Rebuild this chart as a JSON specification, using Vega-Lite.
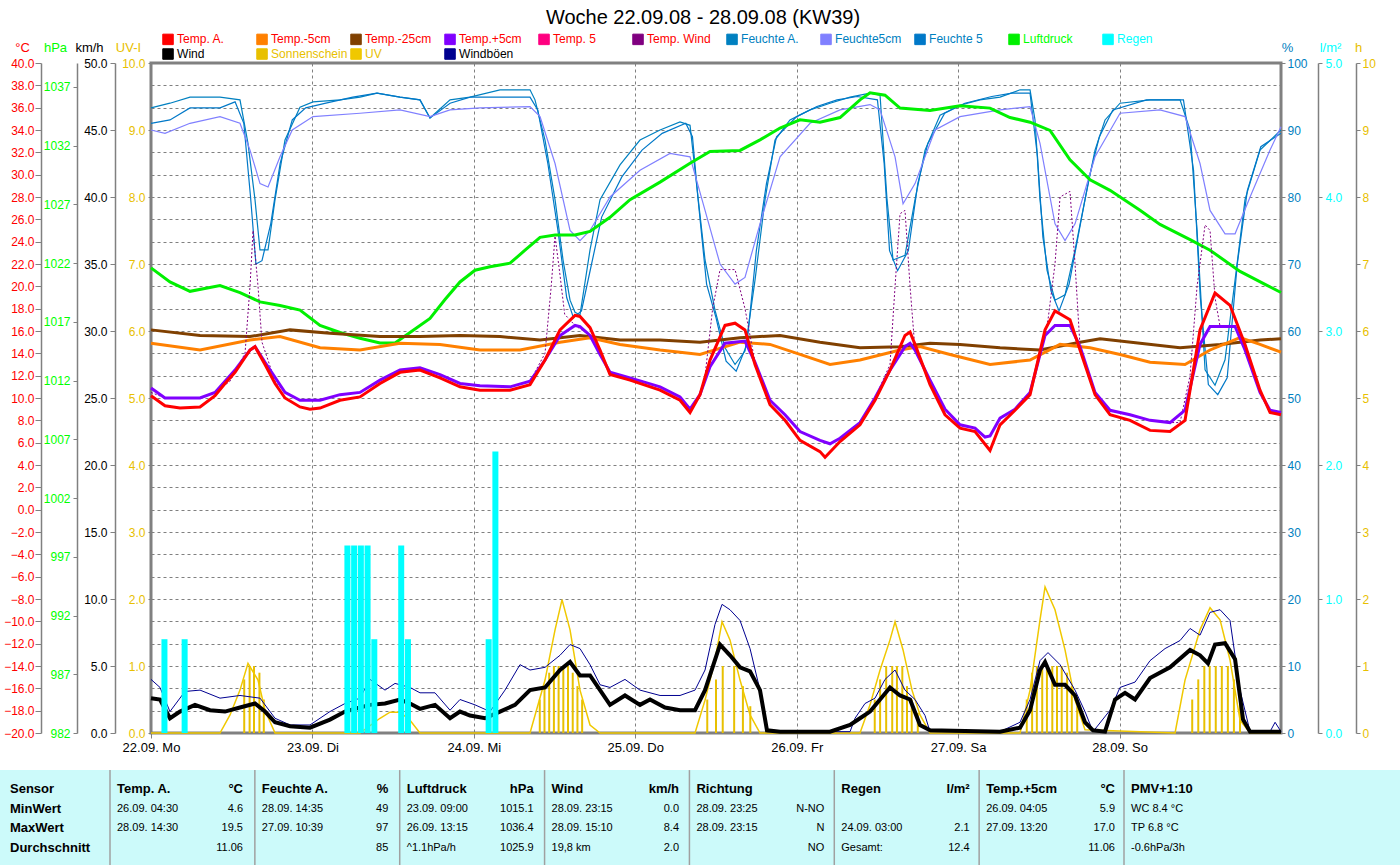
{
"$schema": "https://vega.github.io/schema/vega-lite/v6.json",
"width": 1130, "height": 670,
"autosize": "none",
"padding": {"left": 151, "top": 63, "right": 119, "bottom": 132},
"background": "white",
"config": {"view": {"stroke": "#808080", "strokeWidth": 3}, "font": "Liberation Sans"},
"title": {"text": "Woche 22.09.08 - 28.09.08 (KW39)", "fontSize": 20, "font": "Liberation Sans", "fontWeight": "normal", "color": "#000000", "anchor": "middle", "dx": -13, "offset": 5},
"datasets": {
"ts": [
{"s":"Sonnenschein","t":13.86,"v":0.8},{"s":"Sonnenschein","t":14.66,"v":1.0},{"s":"Sonnenschein","t":15.31,"v":1.0},{"s":"Sonnenschein","t":16.12,"v":0.9},{"s":"Sonnenschein","t":16.77,"v":0.5},
{"s":"Sonnenschein","t":57.8,"v":0.5},{"s":"Sonnenschein","t":58.5,"v":0.7},{"s":"Sonnenschein","t":59.2,"v":0.9},{"s":"Sonnenschein","t":59.9,"v":1.0},{"s":"Sonnenschein","t":60.6,"v":1.0},{"s":"Sonnenschein","t":61.3,"v":1.0},{"s":"Sonnenschein","t":62.0,"v":1.0},{"s":"Sonnenschein","t":62.7,"v":0.9},{"s":"Sonnenschein","t":63.4,"v":0.7},{"s":"Sonnenschein","t":64.1,"v":0.5},
{"s":"Sonnenschein","t":82.7,"v":0.5},{"s":"Sonnenschein","t":84.0,"v":0.8},{"s":"Sonnenschein","t":85.0,"v":1.0},{"s":"Sonnenschein","t":86.7,"v":1.0},{"s":"Sonnenschein","t":88.0,"v":0.7},{"s":"Sonnenschein","t":89.1,"v":0.4},
{"s":"Sonnenschein","t":107.6,"v":0.5},{"s":"Sonnenschein","t":108.4,"v":0.8},{"s":"Sonnenschein","t":109.3,"v":1.0},{"s":"Sonnenschein","t":110.2,"v":1.0},{"s":"Sonnenschein","t":110.9,"v":1.0},{"s":"Sonnenschein","t":111.7,"v":1.0},{"s":"Sonnenschein","t":112.4,"v":0.7},{"s":"Sonnenschein","t":113.1,"v":0.5},{"s":"Sonnenschein","t":114.0,"v":0.3},
{"s":"Sonnenschein","t":130.2,"v":0.5},{"s":"Sonnenschein","t":131.0,"v":0.9},{"s":"Sonnenschein","t":131.7,"v":1.0},{"s":"Sonnenschein","t":132.5,"v":1.0},{"s":"Sonnenschein","t":133.2,"v":1.0},{"s":"Sonnenschein","t":134.0,"v":1.0},{"s":"Sonnenschein","t":134.7,"v":1.0},{"s":"Sonnenschein","t":135.4,"v":1.0},{"s":"Sonnenschein","t":136.2,"v":0.9},{"s":"Sonnenschein","t":136.9,"v":0.7},{"s":"Sonnenschein","t":137.7,"v":0.4},
{"s":"Sonnenschein","t":154.8,"v":0.5},{"s":"Sonnenschein","t":155.7,"v":0.8},{"s":"Sonnenschein","t":156.6,"v":1.0},{"s":"Sonnenschein","t":157.4,"v":1.0},{"s":"Sonnenschein","t":158.3,"v":1.0},{"s":"Sonnenschein","t":159.2,"v":1.0},{"s":"Sonnenschein","t":160.1,"v":1.0},{"s":"Sonnenschein","t":161.0,"v":0.8},{"s":"Sonnenschein","t":161.9,"v":0.5},
{"s":"UV","t":0,"v":0},{"s":"UV","t":10.26,"v":0},{"s":"UV","t":11.75,"v":0.27},{"s":"UV","t":13.23,"v":0.64},{"s":"UV","t":14.42,"v":1.04},{"s":"UV","t":15.91,"v":0.79},{"s":"UV","t":16.95,"v":0.34},{"s":"UV","t":18.44,"v":0},{"s":"UV","t":31.07,"v":0},{"s":"UV","t":34.05,"v":0.22},{"s":"UV","t":35.53,"v":0.31},{"s":"UV","t":37.02,"v":0.31},{"s":"UV","t":38.51,"v":0.19},{"s":"UV","t":39.99,"v":0},{"s":"UV","t":56.35,"v":0},{"s":"UV","t":58.58,"v":0.79},{"s":"UV","t":60.07,"v":1.54},{"s":"UV","t":61.11,"v":1.99},{"s":"UV","t":62.3,"v":1.54},{"s":"UV","t":63.78,"v":0.64},{"s":"UV","t":65.27,"v":0.12},{"s":"UV","t":66.76,"v":0},{"s":"UV","t":80.88,"v":0},{"s":"UV","t":82.37,"v":0.49},{"s":"UV","t":83.85,"v":1.09},{"s":"UV","t":84.9,"v":1.66},{"s":"UV","t":86.08,"v":1.39},{"s":"UV","t":87.57,"v":0.79},{"s":"UV","t":89.06,"v":0.27},{"s":"UV","t":90.54,"v":0},{"s":"UV","t":105.41,"v":0},{"s":"UV","t":106.9,"v":0.42},{"s":"UV","t":108.39,"v":0.94},{"s":"UV","t":109.87,"v":1.39},{"s":"UV","t":110.62,"v":1.66},{"s":"UV","t":111.81,"v":1.24},{"s":"UV","t":113.14,"v":0.64},{"s":"UV","t":114.33,"v":0.27},{"s":"UV","t":115.82,"v":0},{"s":"UV","t":129.2,"v":0},{"s":"UV","t":130.69,"v":0.64},{"s":"UV","t":132.17,"v":1.69},{"s":"UV","t":132.92,"v":2.18},{"s":"UV","t":134.4,"v":1.84},{"s":"UV","t":135.89,"v":1.24},{"s":"UV","t":137.38,"v":0.49},{"s":"UV","t":138.86,"v":0.05},{"s":"UV","t":152.25,"v":0},{"s":"UV","t":153.73,"v":0.79},{"s":"UV","t":155.96,"v":1.54},{"s":"UV","t":157.45,"v":1.87},{"s":"UV","t":158.94,"v":1.69},{"s":"UV","t":160.42,"v":1.09},{"s":"UV","t":161.91,"v":0.19},{"s":"UV","t":163.4,"v":0},{"s":"UV","t":168,"v":0},
{"s":"Feuchte A.","t":0,"v":93.3},{"s":"Feuchte A.","t":2.82,"v":94.0},{"s":"Feuchte A.","t":5.8,"v":94.9},{"s":"Feuchte A.","t":10.26,"v":94.9},{"s":"Feuchte A.","t":13.23,"v":94.5},{"s":"Feuchte A.","t":14.42,"v":88.0},{"s":"Feuchte A.","t":15.46,"v":79.6},{"s":"Feuchte A.","t":16.2,"v":72.1},{"s":"Feuchte A.","t":17.4,"v":72.1},{"s":"Feuchte A.","t":18.44,"v":79.6},{"s":"Feuchte A.","t":19.92,"v":88.5},{"s":"Feuchte A.","t":22.15,"v":93.4},{"s":"Feuchte A.","t":24.09,"v":94.2},{"s":"Feuchte A.","t":28.1,"v":94.5},{"s":"Feuchte A.","t":31.07,"v":94.9},{"s":"Feuchte A.","t":33.6,"v":95.5},{"s":"Feuchte A.","t":37.02,"v":94.9},{"s":"Feuchte A.","t":39.99,"v":94.5},{"s":"Feuchte A.","t":41.48,"v":91.8},{"s":"Feuchte A.","t":44.46,"v":94.5},{"s":"Feuchte A.","t":47.43,"v":94.9},{"s":"Feuchte A.","t":51.89,"v":96.0},{"s":"Feuchte A.","t":56.35,"v":96.0},{"s":"Feuchte A.","t":57.09,"v":94.5},{"s":"Feuchte A.","t":58.58,"v":88.5},{"s":"Feuchte A.","t":60.07,"v":79.6},{"s":"Feuchte A.","t":61.26,"v":70.6},{"s":"Feuchte A.","t":62.3,"v":64.6},{"s":"Feuchte A.","t":63.04,"v":62.8},{"s":"Feuchte A.","t":63.78,"v":62.4},{"s":"Feuchte A.","t":65.27,"v":72.1},{"s":"Feuchte A.","t":66.76,"v":79.6},{"s":"Feuchte A.","t":69.73,"v":84.8},{"s":"Feuchte A.","t":72.7,"v":88.5},{"s":"Feuchte A.","t":75.68,"v":90.0},{"s":"Feuchte A.","t":78.65,"v":91.2},{"s":"Feuchte A.","t":80.14,"v":90.7},{"s":"Feuchte A.","t":80.88,"v":84.0},{"s":"Feuchte A.","t":82.37,"v":70.6},{"s":"Feuchte A.","t":83.85,"v":63.1},{"s":"Feuchte A.","t":85.34,"v":57.5},{"s":"Feuchte A.","t":86.83,"v":55.0},{"s":"Feuchte A.","t":88.31,"v":57.0},{"s":"Feuchte A.","t":89.8,"v":67.6},{"s":"Feuchte A.","t":91.29,"v":79.6},{"s":"Feuchte A.","t":92.77,"v":88.5},{"s":"Feuchte A.","t":95.0,"v":91.5},{"s":"Feuchte A.","t":97.98,"v":93.0},{"s":"Feuchte A.","t":100.95,"v":94.0},{"s":"Feuchte A.","t":103.93,"v":94.9},{"s":"Feuchte A.","t":106.9,"v":95.5},{"s":"Feuchte A.","t":108.39,"v":95.2},{"s":"Feuchte A.","t":109.43,"v":79.6},{"s":"Feuchte A.","t":110.32,"v":70.6},{"s":"Feuchte A.","t":112.1,"v":71.3},{"s":"Feuchte A.","t":113.59,"v":79.6},{"s":"Feuchte A.","t":115.08,"v":87.0},{"s":"Feuchte A.","t":117.31,"v":92.2},{"s":"Feuchte A.","t":120.28,"v":93.7},{"s":"Feuchte A.","t":123.25,"v":94.5},{"s":"Feuchte A.","t":126.23,"v":94.9},{"s":"Feuchte A.","t":129.2,"v":96.0},{"s":"Feuchte A.","t":130.69,"v":96.0},{"s":"Feuchte A.","t":131.43,"v":91.5},{"s":"Feuchte A.","t":132.17,"v":79.6},{"s":"Feuchte A.","t":133.21,"v":69.1},{"s":"Feuchte A.","t":134.4,"v":64.6},{"s":"Feuchte A.","t":135.89,"v":65.4},{"s":"Feuchte A.","t":137.38,"v":72.1},{"s":"Feuchte A.","t":138.86,"v":79.6},{"s":"Feuchte A.","t":140.35,"v":87.0},{"s":"Feuchte A.","t":141.84,"v":91.5},{"s":"Feuchte A.","t":144.07,"v":94.0},{"s":"Feuchte A.","t":148.53,"v":94.5},{"s":"Feuchte A.","t":152.99,"v":94.5},{"s":"Feuchte A.","t":154.48,"v":90.0},{"s":"Feuchte A.","t":155.52,"v":75.0},{"s":"Feuchte A.","t":156.71,"v":54.2},{"s":"Feuchte A.","t":158.19,"v":51.9},{"s":"Feuchte A.","t":159.68,"v":55.7},{"s":"Feuchte A.","t":161.17,"v":67.6},{"s":"Feuchte A.","t":162.65,"v":79.6},{"s":"Feuchte A.","t":164.88,"v":87.0},{"s":"Feuchte A.","t":168,"v":90.0},
{"s":"Feuchte 5","t":0,"v":91.0},{"s":"Feuchte 5","t":2.82,"v":91.5},{"s":"Feuchte 5","t":5.8,"v":93.3},{"s":"Feuchte 5","t":10.26,"v":93.3},{"s":"Feuchte 5","t":12.5,"v":94.2},{"s":"Feuchte 5","t":13.8,"v":91.0},{"s":"Feuchte 5","t":14.8,"v":80.0},{"s":"Feuchte 5","t":15.6,"v":70.0},{"s":"Feuchte 5","t":16.5,"v":70.5},{"s":"Feuchte 5","t":17.8,"v":76.0},{"s":"Feuchte 5","t":19.2,"v":85.0},{"s":"Feuchte 5","t":21.0,"v":91.5},{"s":"Feuchte 5","t":23.0,"v":93.3},{"s":"Feuchte 5","t":26.0,"v":94.0},{"s":"Feuchte 5","t":30.0,"v":94.9},{"s":"Feuchte 5","t":33.6,"v":95.5},{"s":"Feuchte 5","t":37.02,"v":94.9},{"s":"Feuchte 5","t":39.99,"v":94.5},{"s":"Feuchte 5","t":41.48,"v":91.8},{"s":"Feuchte 5","t":44.46,"v":94.0},{"s":"Feuchte 5","t":47.43,"v":94.9},{"s":"Feuchte 5","t":51.89,"v":94.9},{"s":"Feuchte 5","t":56.35,"v":94.9},{"s":"Feuchte 5","t":57.5,"v":93.0},{"s":"Feuchte 5","t":59.0,"v":85.0},{"s":"Feuchte 5","t":60.5,"v":75.0},{"s":"Feuchte 5","t":61.8,"v":65.0},{"s":"Feuchte 5","t":62.8,"v":62.0},{"s":"Feuchte 5","t":64.0,"v":63.0},{"s":"Feuchte 5","t":65.5,"v":70.0},{"s":"Feuchte 5","t":67.0,"v":77.0},{"s":"Feuchte 5","t":70.0,"v":83.0},{"s":"Feuchte 5","t":73.0,"v":87.0},{"s":"Feuchte 5","t":76.0,"v":89.5},{"s":"Feuchte 5","t":79.5,"v":91.0},{"s":"Feuchte 5","t":80.5,"v":89.0},{"s":"Feuchte 5","t":81.3,"v":80.0},{"s":"Feuchte 5","t":82.6,"v":67.0},{"s":"Feuchte 5","t":84.0,"v":62.0},{"s":"Feuchte 5","t":85.5,"v":55.5},{"s":"Feuchte 5","t":87.0,"v":54.0},{"s":"Feuchte 5","t":88.6,"v":58.0},{"s":"Feuchte 5","t":90.0,"v":72.0},{"s":"Feuchte 5","t":91.5,"v":82.0},{"s":"Feuchte 5","t":93.0,"v":89.0},{"s":"Feuchte 5","t":96.0,"v":92.0},{"s":"Feuchte 5","t":99.0,"v":93.5},{"s":"Feuchte 5","t":102.0,"v":94.5},{"s":"Feuchte 5","t":105.0,"v":95.0},{"s":"Feuchte 5","t":108.0,"v":94.5},{"s":"Feuchte 5","t":109.0,"v":85.0},{"s":"Feuchte 5","t":109.8,"v":72.0},{"s":"Feuchte 5","t":111.0,"v":69.0},{"s":"Feuchte 5","t":112.6,"v":72.0},{"s":"Feuchte 5","t":114.0,"v":82.0},{"s":"Feuchte 5","t":115.5,"v":88.0},{"s":"Feuchte 5","t":118.0,"v":92.5},{"s":"Feuchte 5","t":121.0,"v":94.0},{"s":"Feuchte 5","t":125.0,"v":95.0},{"s":"Feuchte 5","t":128.0,"v":95.5},{"s":"Feuchte 5","t":130.69,"v":95.5},{"s":"Feuchte 5","t":131.8,"v":86.0},{"s":"Feuchte 5","t":132.6,"v":74.0},{"s":"Feuchte 5","t":133.8,"v":66.0},{"s":"Feuchte 5","t":135.0,"v":63.0},{"s":"Feuchte 5","t":136.5,"v":67.0},{"s":"Feuchte 5","t":138.0,"v":75.0},{"s":"Feuchte 5","t":139.5,"v":83.0},{"s":"Feuchte 5","t":141.0,"v":89.0},{"s":"Feuchte 5","t":143.0,"v":93.0},{"s":"Feuchte 5","t":148.0,"v":94.5},{"s":"Feuchte 5","t":153.5,"v":94.5},{"s":"Feuchte 5","t":155.0,"v":84.0},{"s":"Feuchte 5","t":156.0,"v":65.0},{"s":"Feuchte 5","t":157.2,"v":52.0},{"s":"Feuchte 5","t":158.6,"v":50.5},{"s":"Feuchte 5","t":160.0,"v":53.0},{"s":"Feuchte 5","t":161.5,"v":70.0},{"s":"Feuchte 5","t":163.0,"v":81.0},{"s":"Feuchte 5","t":165.0,"v":87.5},{"s":"Feuchte 5","t":168,"v":89.5},
{"s":"Feuchte5cm","t":0,"v":90.0},{"s":"Feuchte5cm","t":2.08,"v":89.5},{"s":"Feuchte5cm","t":5.8,"v":91.0},{"s":"Feuchte5cm","t":10.26,"v":92.0},{"s":"Feuchte5cm","t":13.23,"v":91.0},{"s":"Feuchte5cm","t":14.72,"v":87.0},{"s":"Feuchte5cm","t":16.21,"v":82.0},{"s":"Feuchte5cm","t":17.4,"v":81.5},{"s":"Feuchte5cm","t":19.18,"v":86.0},{"s":"Feuchte5cm","t":21.0,"v":90.0},{"s":"Feuchte5cm","t":24.09,"v":92.0},{"s":"Feuchte5cm","t":31.07,"v":92.5},{"s":"Feuchte5cm","t":37.02,"v":93.0},{"s":"Feuchte5cm","t":41.48,"v":92.0},{"s":"Feuchte5cm","t":44.46,"v":93.0},{"s":"Feuchte5cm","t":48.91,"v":93.3},{"s":"Feuchte5cm","t":56.35,"v":93.5},{"s":"Feuchte5cm","t":57.84,"v":92.0},{"s":"Feuchte5cm","t":60.07,"v":85.0},{"s":"Feuchte5cm","t":62.3,"v":75.0},{"s":"Feuchte5cm","t":63.78,"v":73.5},{"s":"Feuchte5cm","t":65.27,"v":75.0},{"s":"Feuchte5cm","t":68.24,"v":80.0},{"s":"Feuchte5cm","t":72.7,"v":84.0},{"s":"Feuchte5cm","t":77.16,"v":86.5},{"s":"Feuchte5cm","t":80.14,"v":86.0},{"s":"Feuchte5cm","t":82.37,"v":78.0},{"s":"Feuchte5cm","t":84.6,"v":70.0},{"s":"Feuchte5cm","t":86.83,"v":67.0},{"s":"Feuchte5cm","t":88.31,"v":68.0},{"s":"Feuchte5cm","t":90.54,"v":76.0},{"s":"Feuchte5cm","t":93.52,"v":86.0},{"s":"Feuchte5cm","t":97.98,"v":91.0},{"s":"Feuchte5cm","t":102.44,"v":93.0},{"s":"Feuchte5cm","t":106.9,"v":93.8},{"s":"Feuchte5cm","t":108.39,"v":93.0},{"s":"Feuchte5cm","t":110.62,"v":86.0},{"s":"Feuchte5cm","t":111.81,"v":79.0},{"s":"Feuchte5cm","t":113.59,"v":82.0},{"s":"Feuchte5cm","t":116.56,"v":90.0},{"s":"Feuchte5cm","t":120.28,"v":92.0},{"s":"Feuchte5cm","t":126.23,"v":93.0},{"s":"Feuchte5cm","t":130.69,"v":93.5},{"s":"Feuchte5cm","t":132.17,"v":88.0},{"s":"Feuchte5cm","t":134.4,"v":76.0},{"s":"Feuchte5cm","t":135.89,"v":73.5},{"s":"Feuchte5cm","t":137.38,"v":76.0},{"s":"Feuchte5cm","t":140.35,"v":86.0},{"s":"Feuchte5cm","t":144.07,"v":92.5},{"s":"Feuchte5cm","t":150.0,"v":93.0},{"s":"Feuchte5cm","t":153.73,"v":92.0},{"s":"Feuchte5cm","t":155.96,"v":85.0},{"s":"Feuchte5cm","t":157.45,"v":78.0},{"s":"Feuchte5cm","t":159.68,"v":74.5},{"s":"Feuchte5cm","t":161.17,"v":74.5},{"s":"Feuchte5cm","t":163.4,"v":80.0},{"s":"Feuchte5cm","t":166.37,"v":87.0},{"s":"Feuchte5cm","t":168,"v":90.5},
{"s":"Luftdruck","t":0,"v":1021.6},{"s":"Luftdruck","t":2.82,"v":1020.4},{"s":"Luftdruck","t":5.8,"v":1019.6},{"s":"Luftdruck","t":10.26,"v":1020.1},{"s":"Luftdruck","t":13.23,"v":1019.5},{"s":"Luftdruck","t":16.21,"v":1018.7},{"s":"Luftdruck","t":19.18,"v":1018.4},{"s":"Luftdruck","t":22.15,"v":1018.0},{"s":"Luftdruck","t":25.13,"v":1016.7},{"s":"Luftdruck","t":28.1,"v":1016.1},{"s":"Luftdruck","t":31.07,"v":1015.6},{"s":"Luftdruck","t":34.05,"v":1015.2},{"s":"Luftdruck","t":36.28,"v":1015.2},{"s":"Luftdruck","t":38.51,"v":1016.1},{"s":"Luftdruck","t":41.48,"v":1017.3},{"s":"Luftdruck","t":43.71,"v":1018.9},{"s":"Luftdruck","t":45.94,"v":1020.4},{"s":"Luftdruck","t":48.17,"v":1021.4},{"s":"Luftdruck","t":50.4,"v":1021.7},{"s":"Luftdruck","t":53.38,"v":1022.0},{"s":"Luftdruck","t":55.61,"v":1023.1},{"s":"Luftdruck","t":57.84,"v":1024.2},{"s":"Luftdruck","t":60.07,"v":1024.4},{"s":"Luftdruck","t":63.04,"v":1024.4},{"s":"Luftdruck","t":65.27,"v":1024.7},{"s":"Luftdruck","t":68.24,"v":1025.9},{"s":"Luftdruck","t":71.22,"v":1027.4},{"s":"Luftdruck","t":75.68,"v":1028.9},{"s":"Luftdruck","t":80.14,"v":1030.5},{"s":"Luftdruck","t":83.11,"v":1031.5},{"s":"Luftdruck","t":87.57,"v":1031.6},{"s":"Luftdruck","t":90.54,"v":1032.5},{"s":"Luftdruck","t":93.52,"v":1033.5},{"s":"Luftdruck","t":96.49,"v":1034.2},{"s":"Luftdruck","t":99.46,"v":1034.0},{"s":"Luftdruck","t":102.44,"v":1034.4},{"s":"Luftdruck","t":105.41,"v":1035.9},{"s":"Luftdruck","t":106.9,"v":1036.5},{"s":"Luftdruck","t":109.13,"v":1036.3},{"s":"Luftdruck","t":111.36,"v":1035.2},{"s":"Luftdruck","t":115.82,"v":1035.0},{"s":"Luftdruck","t":120.28,"v":1035.4},{"s":"Luftdruck","t":124.74,"v":1035.2},{"s":"Luftdruck","t":127.71,"v":1034.4},{"s":"Luftdruck","t":130.69,"v":1034.0},{"s":"Luftdruck","t":133.66,"v":1033.3},{"s":"Luftdruck","t":136.63,"v":1030.8},{"s":"Luftdruck","t":139.61,"v":1029.1},{"s":"Luftdruck","t":142.58,"v":1028.2},{"s":"Luftdruck","t":147.04,"v":1026.5},{"s":"Luftdruck","t":150.01,"v":1025.3},{"s":"Luftdruck","t":154.48,"v":1024.0},{"s":"Luftdruck","t":157.45,"v":1023.1},{"s":"Luftdruck","t":161.91,"v":1021.3},{"s":"Luftdruck","t":165.63,"v":1020.2},{"s":"Luftdruck","t":168,"v":1019.5},
{"s":"Temp.-25cm","t":0,"v":16.1},{"s":"Temp.-25cm","t":7.29,"v":15.6},{"s":"Temp.-25cm","t":14.72,"v":15.5},{"s":"Temp.-25cm","t":20.67,"v":16.1},{"s":"Temp.-25cm","t":26.61,"v":15.8},{"s":"Temp.-25cm","t":34.05,"v":15.5},{"s":"Temp.-25cm","t":39.99,"v":15.5},{"s":"Temp.-25cm","t":45.94,"v":15.6},{"s":"Temp.-25cm","t":51.89,"v":15.5},{"s":"Temp.-25cm","t":57.84,"v":15.2},{"s":"Temp.-25cm","t":63.78,"v":15.6},{"s":"Temp.-25cm","t":69.73,"v":15.2},{"s":"Temp.-25cm","t":75.68,"v":15.2},{"s":"Temp.-25cm","t":81.62,"v":15.0},{"s":"Temp.-25cm","t":87.57,"v":15.4},{"s":"Temp.-25cm","t":93.52,"v":15.6},{"s":"Temp.-25cm","t":99.46,"v":15.0},{"s":"Temp.-25cm","t":105.41,"v":14.5},{"s":"Temp.-25cm","t":111.36,"v":14.6},{"s":"Temp.-25cm","t":115.82,"v":14.9},{"s":"Temp.-25cm","t":120.28,"v":14.8},{"s":"Temp.-25cm","t":126.23,"v":14.5},{"s":"Temp.-25cm","t":132.17,"v":14.3},{"s":"Temp.-25cm","t":138.12,"v":15.0},{"s":"Temp.-25cm","t":141.1,"v":15.3},{"s":"Temp.-25cm","t":147.04,"v":14.9},{"s":"Temp.-25cm","t":152.99,"v":14.5},{"s":"Temp.-25cm","t":158.94,"v":14.8},{"s":"Temp.-25cm","t":164.88,"v":15.2},{"s":"Temp.-25cm","t":168,"v":15.3},
{"s":"Temp.-5cm","t":0,"v":14.9},{"s":"Temp.-5cm","t":7.29,"v":14.3},{"s":"Temp.-5cm","t":14.72,"v":15.2},{"s":"Temp.-5cm","t":19.18,"v":15.5},{"s":"Temp.-5cm","t":25.13,"v":14.5},{"s":"Temp.-5cm","t":31.07,"v":14.3},{"s":"Temp.-5cm","t":37.02,"v":14.9},{"s":"Temp.-5cm","t":42.97,"v":14.8},{"s":"Temp.-5cm","t":48.91,"v":14.3},{"s":"Temp.-5cm","t":54.86,"v":14.3},{"s":"Temp.-5cm","t":60.81,"v":15.0},{"s":"Temp.-5cm","t":65.27,"v":15.4},{"s":"Temp.-5cm","t":69.73,"v":14.8},{"s":"Temp.-5cm","t":75.68,"v":14.3},{"s":"Temp.-5cm","t":81.62,"v":13.9},{"s":"Temp.-5cm","t":87.57,"v":15.0},{"s":"Temp.-5cm","t":92.03,"v":14.8},{"s":"Temp.-5cm","t":96.49,"v":13.9},{"s":"Temp.-5cm","t":100.95,"v":13.0},{"s":"Temp.-5cm","t":105.41,"v":13.4},{"s":"Temp.-5cm","t":111.36,"v":14.3},{"s":"Temp.-5cm","t":114.33,"v":14.6},{"s":"Temp.-5cm","t":118.79,"v":13.9},{"s":"Temp.-5cm","t":124.74,"v":13.0},{"s":"Temp.-5cm","t":130.69,"v":13.4},{"s":"Temp.-5cm","t":135.15,"v":14.8},{"s":"Temp.-5cm","t":139.61,"v":14.5},{"s":"Temp.-5cm","t":144.07,"v":13.9},{"s":"Temp.-5cm","t":148.53,"v":13.2},{"s":"Temp.-5cm","t":153.73,"v":13.0},{"s":"Temp.-5cm","t":157.45,"v":14.3},{"s":"Temp.-5cm","t":161.91,"v":15.4},{"s":"Temp.-5cm","t":164.88,"v":14.8},{"s":"Temp.-5cm","t":168,"v":14.1},
{"s":"Temp. Wind","t":0,"v":10.5},{"s":"Temp. Wind","t":2.08,"v":10.0},{"s":"Temp. Wind","t":7.29,"v":10.0},{"s":"Temp. Wind","t":9.52,"v":10.5},{"s":"Temp. Wind","t":11.75,"v":11.5},{"s":"Temp. Wind","t":13.98,"v":14.0},{"s":"Temp. Wind","t":14.72,"v":20.0},{"s":"Temp. Wind","t":15.17,"v":25.0},{"s":"Temp. Wind","t":15.91,"v":20.0},{"s":"Temp. Wind","t":16.5,"v":15.0},{"s":"Temp. Wind","t":18.44,"v":11.5},{"s":"Temp. Wind","t":19.92,"v":10.5},{"s":"Temp. Wind","t":22.15,"v":9.8},{"s":"Temp. Wind","t":25.13,"v":9.8},{"s":"Temp. Wind","t":28.1,"v":10.3},{"s":"Temp. Wind","t":31.07,"v":10.5},{"s":"Temp. Wind","t":34.05,"v":11.6},{"s":"Temp. Wind","t":37.02,"v":12.5},{"s":"Temp. Wind","t":39.99,"v":12.7},{"s":"Temp. Wind","t":42.97,"v":12.1},{"s":"Temp. Wind","t":45.94,"v":11.3},{"s":"Temp. Wind","t":48.91,"v":11.1},{"s":"Temp. Wind","t":53.38,"v":11.0},{"s":"Temp. Wind","t":56.35,"v":11.5},{"s":"Temp. Wind","t":58.58,"v":14.0},{"s":"Temp. Wind","t":59.5,"v":20.0},{"s":"Temp. Wind","t":60.07,"v":24.5},{"s":"Temp. Wind","t":60.81,"v":21.0},{"s":"Temp. Wind","t":61.5,"v":17.5},{"s":"Temp. Wind","t":63.04,"v":16.5},{"s":"Temp. Wind","t":65.27,"v":15.6},{"s":"Temp. Wind","t":66.76,"v":13.9},{"s":"Temp. Wind","t":68.24,"v":12.3},{"s":"Temp. Wind","t":71.22,"v":11.8},{"s":"Temp. Wind","t":75.68,"v":11.0},{"s":"Temp. Wind","t":78.65,"v":10.1},{"s":"Temp. Wind","t":80.14,"v":9.0},{"s":"Temp. Wind","t":81.62,"v":10.3},{"s":"Temp. Wind","t":82.37,"v":12.0},{"s":"Temp. Wind","t":83.5,"v":18.0},{"s":"Temp. Wind","t":84.6,"v":21.5},{"s":"Temp. Wind","t":86.83,"v":21.5},{"s":"Temp. Wind","t":88.31,"v":18.0},{"s":"Temp. Wind","t":89.8,"v":13.2},{"s":"Temp. Wind","t":92.03,"v":9.8},{"s":"Temp. Wind","t":94.26,"v":8.5},{"s":"Temp. Wind","t":96.49,"v":7.0},{"s":"Temp. Wind","t":99.46,"v":6.2},{"s":"Temp. Wind","t":100.95,"v":5.9},{"s":"Temp. Wind","t":102.44,"v":6.4},{"s":"Temp. Wind","t":105.41,"v":7.8},{"s":"Temp. Wind","t":107.64,"v":10.0},{"s":"Temp. Wind","t":109.87,"v":13.0},{"s":"Temp. Wind","t":110.62,"v":20.0},{"s":"Temp. Wind","t":111.36,"v":26.5},{"s":"Temp. Wind","t":112.1,"v":26.8},{"s":"Temp. Wind","t":112.85,"v":20.0},{"s":"Temp. Wind","t":113.59,"v":14.3},{"s":"Temp. Wind","t":115.82,"v":11.6},{"s":"Temp. Wind","t":118.05,"v":9.0},{"s":"Temp. Wind","t":120.28,"v":7.6},{"s":"Temp. Wind","t":122.51,"v":7.3},{"s":"Temp. Wind","t":124.0,"v":6.5},{"s":"Temp. Wind","t":124.74,"v":6.6},{"s":"Temp. Wind","t":126.23,"v":8.2},{"s":"Temp. Wind","t":128.46,"v":9.0},{"s":"Temp. Wind","t":130.69,"v":10.5},{"s":"Temp. Wind","t":133.36,"v":17.0},{"s":"Temp. Wind","t":134.4,"v":22.0},{"s":"Temp. Wind","t":135.15,"v":28.0},{"s":"Temp. Wind","t":136.63,"v":28.5},{"s":"Temp. Wind","t":137.38,"v":22.0},{"s":"Temp. Wind","t":138.12,"v":14.6},{"s":"Temp. Wind","t":140.35,"v":10.5},{"s":"Temp. Wind","t":142.58,"v":8.9},{"s":"Temp. Wind","t":145.56,"v":8.5},{"s":"Temp. Wind","t":148.53,"v":8.0},{"s":"Temp. Wind","t":151.5,"v":7.8},{"s":"Temp. Wind","t":152.99,"v":7.8},{"s":"Temp. Wind","t":154.48,"v":12.0},{"s":"Temp. Wind","t":155.52,"v":20.0},{"s":"Temp. Wind","t":156.71,"v":25.5},{"s":"Temp. Wind","t":157.45,"v":25.0},{"s":"Temp. Wind","t":158.19,"v":19.0},{"s":"Temp. Wind","t":158.94,"v":16.4},{"s":"Temp. Wind","t":161.17,"v":16.4},{"s":"Temp. Wind","t":162.65,"v":14.3},{"s":"Temp. Wind","t":164.88,"v":10.5},{"s":"Temp. Wind","t":166.37,"v":8.9},{"s":"Temp. Wind","t":168,"v":8.7},
{"s":"Temp.+5cm","t":0,"v":10.9},{"s":"Temp.+5cm","t":2.08,"v":10.0},{"s":"Temp.+5cm","t":7.29,"v":10.0},{"s":"Temp.+5cm","t":9.52,"v":10.5},{"s":"Temp.+5cm","t":12.49,"v":12.5},{"s":"Temp.+5cm","t":14.72,"v":14.3},{"s":"Temp.+5cm","t":15.46,"v":14.6},{"s":"Temp.+5cm","t":16.95,"v":13.2},{"s":"Temp.+5cm","t":19.92,"v":10.5},{"s":"Temp.+5cm","t":22.15,"v":9.8},{"s":"Temp.+5cm","t":25.13,"v":9.8},{"s":"Temp.+5cm","t":28.1,"v":10.3},{"s":"Temp.+5cm","t":31.07,"v":10.5},{"s":"Temp.+5cm","t":34.05,"v":11.6},{"s":"Temp.+5cm","t":37.02,"v":12.5},{"s":"Temp.+5cm","t":39.99,"v":12.7},{"s":"Temp.+5cm","t":42.97,"v":12.1},{"s":"Temp.+5cm","t":45.94,"v":11.3},{"s":"Temp.+5cm","t":48.91,"v":11.1},{"s":"Temp.+5cm","t":53.38,"v":11.0},{"s":"Temp.+5cm","t":56.35,"v":11.5},{"s":"Temp.+5cm","t":58.58,"v":13.4},{"s":"Temp.+5cm","t":60.81,"v":15.6},{"s":"Temp.+5cm","t":63.04,"v":16.5},{"s":"Temp.+5cm","t":63.78,"v":16.4},{"s":"Temp.+5cm","t":65.27,"v":15.6},{"s":"Temp.+5cm","t":66.76,"v":13.9},{"s":"Temp.+5cm","t":68.24,"v":12.3},{"s":"Temp.+5cm","t":71.22,"v":11.8},{"s":"Temp.+5cm","t":75.68,"v":11.0},{"s":"Temp.+5cm","t":78.65,"v":10.1},{"s":"Temp.+5cm","t":80.14,"v":9.0},{"s":"Temp.+5cm","t":81.62,"v":10.3},{"s":"Temp.+5cm","t":83.11,"v":12.8},{"s":"Temp.+5cm","t":85.34,"v":14.9},{"s":"Temp.+5cm","t":88.31,"v":15.1},{"s":"Temp.+5cm","t":89.8,"v":13.2},{"s":"Temp.+5cm","t":92.03,"v":9.8},{"s":"Temp.+5cm","t":94.26,"v":8.5},{"s":"Temp.+5cm","t":96.49,"v":7.0},{"s":"Temp.+5cm","t":99.46,"v":6.2},{"s":"Temp.+5cm","t":100.95,"v":5.9},{"s":"Temp.+5cm","t":102.44,"v":6.4},{"s":"Temp.+5cm","t":105.41,"v":7.8},{"s":"Temp.+5cm","t":107.64,"v":10.0},{"s":"Temp.+5cm","t":109.87,"v":12.5},{"s":"Temp.+5cm","t":112.1,"v":14.6},{"s":"Temp.+5cm","t":112.85,"v":14.9},{"s":"Temp.+5cm","t":113.59,"v":14.3},{"s":"Temp.+5cm","t":115.82,"v":11.6},{"s":"Temp.+5cm","t":118.05,"v":9.0},{"s":"Temp.+5cm","t":120.28,"v":7.6},{"s":"Temp.+5cm","t":122.51,"v":7.3},{"s":"Temp.+5cm","t":124.0,"v":6.5},{"s":"Temp.+5cm","t":124.74,"v":6.6},{"s":"Temp.+5cm","t":126.23,"v":8.2},{"s":"Temp.+5cm","t":128.46,"v":9.0},{"s":"Temp.+5cm","t":130.69,"v":10.5},{"s":"Temp.+5cm","t":132.92,"v":15.6},{"s":"Temp.+5cm","t":134.4,"v":16.5},{"s":"Temp.+5cm","t":136.63,"v":16.5},{"s":"Temp.+5cm","t":138.12,"v":14.6},{"s":"Temp.+5cm","t":140.35,"v":10.5},{"s":"Temp.+5cm","t":142.58,"v":8.9},{"s":"Temp.+5cm","t":145.56,"v":8.5},{"s":"Temp.+5cm","t":148.53,"v":8.0},{"s":"Temp.+5cm","t":151.5,"v":7.8},{"s":"Temp.+5cm","t":153.73,"v":8.9},{"s":"Temp.+5cm","t":155.96,"v":14.8},{"s":"Temp.+5cm","t":157.45,"v":16.4},{"s":"Temp.+5cm","t":161.17,"v":16.4},{"s":"Temp.+5cm","t":162.65,"v":14.3},{"s":"Temp.+5cm","t":164.88,"v":10.5},{"s":"Temp.+5cm","t":166.37,"v":8.9},{"s":"Temp.+5cm","t":168,"v":8.7},
{"s":"Temp. A.","t":0,"v":10.2},{"s":"Temp. A.","t":2.08,"v":9.3},{"s":"Temp. A.","t":4.31,"v":9.1},{"s":"Temp. A.","t":7.29,"v":9.2},{"s":"Temp. A.","t":9.52,"v":10.2},{"s":"Temp. A.","t":11.0,"v":11.3},{"s":"Temp. A.","t":12.49,"v":12.3},{"s":"Temp. A.","t":14.72,"v":14.3},{"s":"Temp. A.","t":15.46,"v":14.6},{"s":"Temp. A.","t":16.95,"v":13.0},{"s":"Temp. A.","t":18.44,"v":11.3},{"s":"Temp. A.","t":19.92,"v":10.0},{"s":"Temp. A.","t":22.15,"v":9.2},{"s":"Temp. A.","t":23.64,"v":9.0},{"s":"Temp. A.","t":25.13,"v":9.1},{"s":"Temp. A.","t":28.1,"v":9.8},{"s":"Temp. A.","t":31.07,"v":10.1},{"s":"Temp. A.","t":34.05,"v":11.3},{"s":"Temp. A.","t":37.02,"v":12.3},{"s":"Temp. A.","t":39.99,"v":12.5},{"s":"Temp. A.","t":42.97,"v":11.8},{"s":"Temp. A.","t":45.94,"v":11.0},{"s":"Temp. A.","t":48.91,"v":10.7},{"s":"Temp. A.","t":53.38,"v":10.7},{"s":"Temp. A.","t":56.35,"v":11.2},{"s":"Temp. A.","t":58.58,"v":13.4},{"s":"Temp. A.","t":60.81,"v":16.1},{"s":"Temp. A.","t":63.04,"v":17.4},{"s":"Temp. A.","t":63.78,"v":17.3},{"s":"Temp. A.","t":65.27,"v":16.3},{"s":"Temp. A.","t":66.76,"v":14.3},{"s":"Temp. A.","t":68.24,"v":12.1},{"s":"Temp. A.","t":71.22,"v":11.6},{"s":"Temp. A.","t":75.68,"v":10.7},{"s":"Temp. A.","t":78.65,"v":9.8},{"s":"Temp. A.","t":80.14,"v":8.7},{"s":"Temp. A.","t":81.62,"v":10.3},{"s":"Temp. A.","t":83.11,"v":13.4},{"s":"Temp. A.","t":85.34,"v":16.5},{"s":"Temp. A.","t":86.83,"v":16.7},{"s":"Temp. A.","t":88.31,"v":16.1},{"s":"Temp. A.","t":89.8,"v":13.0},{"s":"Temp. A.","t":92.03,"v":9.4},{"s":"Temp. A.","t":94.26,"v":8.0},{"s":"Temp. A.","t":96.49,"v":6.2},{"s":"Temp. A.","t":99.46,"v":5.2},{"s":"Temp. A.","t":100.21,"v":4.7},{"s":"Temp. A.","t":102.44,"v":6.1},{"s":"Temp. A.","t":105.41,"v":7.6},{"s":"Temp. A.","t":107.64,"v":9.8},{"s":"Temp. A.","t":109.87,"v":12.5},{"s":"Temp. A.","t":112.1,"v":15.6},{"s":"Temp. A.","t":112.85,"v":15.9},{"s":"Temp. A.","t":113.59,"v":14.8},{"s":"Temp. A.","t":115.82,"v":11.2},{"s":"Temp. A.","t":118.05,"v":8.5},{"s":"Temp. A.","t":120.28,"v":7.3},{"s":"Temp. A.","t":122.51,"v":7.0},{"s":"Temp. A.","t":124.74,"v":5.3},{"s":"Temp. A.","t":126.23,"v":7.6},{"s":"Temp. A.","t":128.46,"v":8.9},{"s":"Temp. A.","t":130.69,"v":10.3},{"s":"Temp. A.","t":132.92,"v":16.1},{"s":"Temp. A.","t":134.4,"v":17.8},{"s":"Temp. A.","t":136.63,"v":17.0},{"s":"Temp. A.","t":138.12,"v":14.3},{"s":"Temp. A.","t":140.35,"v":10.3},{"s":"Temp. A.","t":142.58,"v":8.5},{"s":"Temp. A.","t":145.56,"v":8.0},{"s":"Temp. A.","t":148.53,"v":7.1},{"s":"Temp. A.","t":151.5,"v":7.0},{"s":"Temp. A.","t":153.73,"v":8.0},{"s":"Temp. A.","t":155.96,"v":16.1},{"s":"Temp. A.","t":158.19,"v":19.4},{"s":"Temp. A.","t":160.42,"v":18.3},{"s":"Temp. A.","t":162.65,"v":14.8},{"s":"Temp. A.","t":164.88,"v":10.7},{"s":"Temp. A.","t":166.37,"v":8.7},{"s":"Temp. A.","t":168,"v":8.5},
{"s":"Windböen","t":0,"v":4.0},{"s":"Windböen","t":1.34,"v":3.4},{"s":"Windböen","t":2.82,"v":1.6},{"s":"Windböen","t":5.05,"v":3.1},{"s":"Windböen","t":7.29,"v":3.2},{"s":"Windböen","t":10.26,"v":2.6},{"s":"Windböen","t":13.23,"v":2.8},{"s":"Windböen","t":16.21,"v":2.6},{"s":"Windböen","t":18.44,"v":1.1},{"s":"Windböen","t":20.67,"v":0.6},{"s":"Windböen","t":23.64,"v":0.6},{"s":"Windböen","t":26.61,"v":1.6},{"s":"Windböen","t":28.84,"v":2.2},{"s":"Windböen","t":31.07,"v":2.6},{"s":"Windböen","t":32.56,"v":4.0},{"s":"Windböen","t":34.79,"v":3.2},{"s":"Windböen","t":36.28,"v":3.7},{"s":"Windböen","t":38.51,"v":3.4},{"s":"Windböen","t":39.99,"v":3.0},{"s":"Windböen","t":42.22,"v":3.0},{"s":"Windböen","t":44.46,"v":1.7},{"s":"Windböen","t":45.94,"v":2.5},{"s":"Windböen","t":48.17,"v":2.1},{"s":"Windböen","t":50.4,"v":1.6},{"s":"Windböen","t":52.63,"v":3.2},{"s":"Windböen","t":54.86,"v":5.1},{"s":"Windböen","t":56.35,"v":4.7},{"s":"Windböen","t":58.58,"v":4.9},{"s":"Windböen","t":60.81,"v":5.8},{"s":"Windböen","t":62.3,"v":6.6},{"s":"Windböen","t":63.78,"v":6.3},{"s":"Windböen","t":65.27,"v":5.1},{"s":"Windböen","t":66.76,"v":3.6},{"s":"Windböen","t":68.24,"v":3.4},{"s":"Windböen","t":70.47,"v":4.0},{"s":"Windböen","t":72.7,"v":3.2},{"s":"Windböen","t":75.68,"v":2.8},{"s":"Windböen","t":78.65,"v":2.8},{"s":"Windböen","t":80.88,"v":3.2},{"s":"Windböen","t":82.37,"v":4.7},{"s":"Windböen","t":83.85,"v":8.1},{"s":"Windböen","t":84.9,"v":9.6},{"s":"Windböen","t":86.08,"v":9.2},{"s":"Windböen","t":87.57,"v":8.4},{"s":"Windböen","t":89.06,"v":6.3},{"s":"Windböen","t":90.54,"v":3.2},{"s":"Windböen","t":91.58,"v":0.1},{"s":"Windböen","t":103.93,"v":0.1},{"s":"Windböen","t":104.67,"v":1.1},{"s":"Windböen","t":106.15,"v":2.2},{"s":"Windböen","t":107.64,"v":2.6},{"s":"Windböen","t":109.13,"v":4.0},{"s":"Windböen","t":110.62,"v":4.7},{"s":"Windböen","t":112.1,"v":3.2},{"s":"Windböen","t":113.59,"v":2.5},{"s":"Windböen","t":115.08,"v":1.3},{"s":"Windböen","t":115.82,"v":0.1},{"s":"Windböen","t":126.23,"v":0.1},{"s":"Windböen","t":129.2,"v":0.8},{"s":"Windböen","t":130.69,"v":2.5},{"s":"Windböen","t":132.17,"v":5.4},{"s":"Windböen","t":133.36,"v":6.0},{"s":"Windböen","t":135.15,"v":5.1},{"s":"Windböen","t":137.38,"v":3.2},{"s":"Windböen","t":138.86,"v":1.6},{"s":"Windböen","t":140.05,"v":0.1},{"s":"Windböen","t":142.58,"v":1.7},{"s":"Windböen","t":144.07,"v":3.4},{"s":"Windböen","t":146.3,"v":3.8},{"s":"Windböen","t":148.53,"v":5.4},{"s":"Windböen","t":150.76,"v":6.3},{"s":"Windböen","t":152.99,"v":6.9},{"s":"Windböen","t":154.48,"v":7.8},{"s":"Windböen","t":155.96,"v":7.3},{"s":"Windböen","t":157.45,"v":9.0},{"s":"Windböen","t":158.94,"v":9.2},{"s":"Windböen","t":160.42,"v":8.4},{"s":"Windböen","t":161.91,"v":3.2},{"s":"Windböen","t":163.4,"v":0.1},{"s":"Windböen","t":166.37,"v":0.1},{"s":"Windböen","t":167.12,"v":0.8},{"s":"Windböen","t":168,"v":0.1},
{"s":"Wind","t":0,"v":2.6},{"s":"Wind","t":1.34,"v":2.5},{"s":"Wind","t":2.82,"v":1.1},{"s":"Wind","t":4.31,"v":1.6},{"s":"Wind","t":6.54,"v":2.1},{"s":"Wind","t":8.77,"v":1.7},{"s":"Wind","t":11.0,"v":1.6},{"s":"Wind","t":13.23,"v":1.9},{"s":"Wind","t":15.46,"v":2.2},{"s":"Wind","t":16.95,"v":1.6},{"s":"Wind","t":18.44,"v":0.8},{"s":"Wind","t":20.67,"v":0.5},{"s":"Wind","t":23.64,"v":0.4},{"s":"Wind","t":26.61,"v":1.0},{"s":"Wind","t":28.84,"v":1.6},{"s":"Wind","t":31.07,"v":1.9},{"s":"Wind","t":32.56,"v":2.1},{"s":"Wind","t":34.79,"v":2.2},{"s":"Wind","t":37.02,"v":2.5},{"s":"Wind","t":38.51,"v":2.2},{"s":"Wind","t":39.99,"v":1.8},{"s":"Wind","t":42.22,"v":2.1},{"s":"Wind","t":44.46,"v":1.1},{"s":"Wind","t":45.94,"v":1.6},{"s":"Wind","t":47.43,"v":1.3},{"s":"Wind","t":49.66,"v":1.1},{"s":"Wind","t":51.89,"v":1.6},{"s":"Wind","t":54.12,"v":2.1},{"s":"Wind","t":56.35,"v":3.2},{"s":"Wind","t":58.58,"v":3.4},{"s":"Wind","t":60.81,"v":4.7},{"s":"Wind","t":62.3,"v":5.3},{"s":"Wind","t":63.78,"v":4.3},{"s":"Wind","t":65.27,"v":4.3},{"s":"Wind","t":66.76,"v":3.2},{"s":"Wind","t":68.24,"v":2.1},{"s":"Wind","t":70.47,"v":2.8},{"s":"Wind","t":72.7,"v":2.1},{"s":"Wind","t":74.19,"v":2.5},{"s":"Wind","t":76.42,"v":1.9},{"s":"Wind","t":78.65,"v":1.7},{"s":"Wind","t":80.88,"v":1.7},{"s":"Wind","t":82.37,"v":3.2},{"s":"Wind","t":84.6,"v":6.6},{"s":"Wind","t":86.08,"v":5.8},{"s":"Wind","t":87.57,"v":4.9},{"s":"Wind","t":89.06,"v":4.6},{"s":"Wind","t":90.54,"v":3.2},{"s":"Wind","t":91.58,"v":0.2},{"s":"Wind","t":93.52,"v":0.1},{"s":"Wind","t":100.95,"v":0.1},{"s":"Wind","t":103.93,"v":0.6},{"s":"Wind","t":105.41,"v":1.1},{"s":"Wind","t":106.9,"v":1.6},{"s":"Wind","t":108.39,"v":2.5},{"s":"Wind","t":109.87,"v":3.4},{"s":"Wind","t":111.36,"v":2.8},{"s":"Wind","t":112.85,"v":2.5},{"s":"Wind","t":114.33,"v":0.6},{"s":"Wind","t":115.82,"v":0.2},{"s":"Wind","t":126.23,"v":0.1},{"s":"Wind","t":129.2,"v":0.4},{"s":"Wind","t":130.69,"v":1.7},{"s":"Wind","t":132.17,"v":4.7},{"s":"Wind","t":132.92,"v":5.3},{"s":"Wind","t":134.4,"v":3.6},{"s":"Wind","t":135.89,"v":3.6},{"s":"Wind","t":137.38,"v":2.8},{"s":"Wind","t":138.86,"v":0.8},{"s":"Wind","t":140.05,"v":0.2},{"s":"Wind","t":141.84,"v":0.1},{"s":"Wind","t":143.33,"v":2.5},{"s":"Wind","t":144.81,"v":3.0},{"s":"Wind","t":146.3,"v":2.5},{"s":"Wind","t":148.53,"v":4.1},{"s":"Wind","t":151.5,"v":4.9},{"s":"Wind","t":154.48,"v":6.2},{"s":"Wind","t":155.96,"v":5.8},{"s":"Wind","t":157.15,"v":5.2},{"s":"Wind","t":158.19,"v":6.6},{"s":"Wind","t":159.68,"v":6.7},{"s":"Wind","t":161.17,"v":5.5},{"s":"Wind","t":162.36,"v":1.0},{"s":"Wind","t":163.4,"v":0.1},{"s":"Wind","t":168,"v":0.1},
{"s":"Regen","t":2.0,"v":0.7},{"s":"Regen","t":5.0,"v":0.7},{"s":"Regen","t":29.2,"v":1.4},{"s":"Regen","t":30.2,"v":1.4},{"s":"Regen","t":31.2,"v":1.4},{"s":"Regen","t":32.2,"v":1.4},{"s":"Regen","t":33.2,"v":0.7},{"s":"Regen","t":37.2,"v":1.4},{"s":"Regen","t":38.2,"v":0.7},{"s":"Regen","t":50.2,"v":0.7},{"s":"Regen","t":51.2,"v":2.1}
],
"tbl": [
{"r":0,"c":0,"a":"l","b":1,"t":"Sensor"},
{"r":0,"c":1,"a":"l","b":1,"t":"Temp. A."},{"r":0,"c":1,"a":"r","b":1,"t":"°C"},
{"r":0,"c":2,"a":"l","b":1,"t":"Feuchte A."},{"r":0,"c":2,"a":"r","b":1,"t":"%"},
{"r":0,"c":3,"a":"l","b":1,"t":"Luftdruck"},{"r":0,"c":3,"a":"r","b":1,"t":"hPa"},
{"r":0,"c":4,"a":"l","b":1,"t":"Wind"},{"r":0,"c":4,"a":"r","b":1,"t":"km/h"},
{"r":0,"c":5,"a":"l","b":1,"t":"Richtung"},
{"r":0,"c":6,"a":"l","b":1,"t":"Regen"},{"r":0,"c":6,"a":"r","b":1,"t":"l/m²"},
{"r":0,"c":7,"a":"l","b":1,"t":"Temp.+5cm"},{"r":0,"c":7,"a":"r","b":1,"t":"°C"},
{"r":0,"c":8,"a":"l","b":1,"t":"PMV+1:10"},
{"r":1,"c":0,"a":"l","b":1,"t":"MinWert"},
{"r":1,"c":1,"a":"l","b":0,"t":"26.09. 04:30"},{"r":1,"c":1,"a":"r","b":0,"t":"4.6"},
{"r":1,"c":2,"a":"l","b":0,"t":"28.09. 14:35"},{"r":1,"c":2,"a":"r","b":0,"t":"49"},
{"r":1,"c":3,"a":"l","b":0,"t":"23.09. 09:00"},{"r":1,"c":3,"a":"r","b":0,"t":"1015.1"},
{"r":1,"c":4,"a":"l","b":0,"t":"28.09. 23:15"},{"r":1,"c":4,"a":"r","b":0,"t":"0.0"},
{"r":1,"c":5,"a":"l","b":0,"t":"28.09. 23:25"},{"r":1,"c":5,"a":"r","b":0,"t":"N-NO"},
{"r":1,"c":7,"a":"l","b":0,"t":"26.09. 04:05"},{"r":1,"c":7,"a":"r","b":0,"t":"5.9"},
{"r":1,"c":8,"a":"l","b":0,"t":"WC 8.4 °C"},
{"r":2,"c":0,"a":"l","b":1,"t":"MaxWert"},
{"r":2,"c":1,"a":"l","b":0,"t":"28.09. 14:30"},{"r":2,"c":1,"a":"r","b":0,"t":"19.5"},
{"r":2,"c":2,"a":"l","b":0,"t":"27.09. 10:39"},{"r":2,"c":2,"a":"r","b":0,"t":"97"},
{"r":2,"c":3,"a":"l","b":0,"t":"26.09. 13:15"},{"r":2,"c":3,"a":"r","b":0,"t":"1036.4"},
{"r":2,"c":4,"a":"l","b":0,"t":"28.09. 15:10"},{"r":2,"c":4,"a":"r","b":0,"t":"8.4"},
{"r":2,"c":5,"a":"l","b":0,"t":"28.09. 23:15"},{"r":2,"c":5,"a":"r","b":0,"t":"N"},
{"r":2,"c":6,"a":"l","b":0,"t":"24.09. 03:00"},{"r":2,"c":6,"a":"r","b":0,"t":"2.1"},
{"r":2,"c":7,"a":"l","b":0,"t":"27.09. 13:20"},{"r":2,"c":7,"a":"r","b":0,"t":"17.0"},
{"r":2,"c":8,"a":"l","b":0,"t":"TP 6.8 °C"},
{"r":3,"c":0,"a":"l","b":1,"t":"Durchschnitt"},
{"r":3,"c":1,"a":"r","b":0,"t":"11.06"},
{"r":3,"c":2,"a":"r","b":0,"t":"85"},
{"r":3,"c":3,"a":"l","b":0,"t":"^1.1hPa/h"},{"r":3,"c":3,"a":"r","b":0,"t":"1025.9"},
{"r":3,"c":4,"a":"l","b":0,"t":"19,8 km"},{"r":3,"c":4,"a":"r","b":0,"t":"2.0"},
{"r":3,"c":5,"a":"r","b":0,"t":"NO"},
{"r":3,"c":6,"a":"l","b":0,"t":"Gesamt:"},{"r":3,"c":6,"a":"r","b":0,"t":"12.4"},
{"r":3,"c":7,"a":"r","b":0,"t":"11.06"},
{"r":3,"c":8,"a":"l","b":0,"t":"-0.6hPa/3h"}
]
},
"resolve": {"scale": {"x": "independent", "y": "independent"}},
"layer": [
{"data": {"name": "tbl"}, "transform": [{"filter": "datum.r == 0 && datum.c == 0"}],
 "mark": {"type": "rect", "fill": "#CCFAFA", "stroke": null},
 "encoding": {
  "x": {"datum": 0, "type": "quantitative", "scale": {"domain": [0, 1, 8, 9], "range": [-151, -41, 973, 1249], "nice": false, "zero": false}, "axis": null},
  "x2": {"datum": 9},
  "y": {"datum": -0.97, "type": "quantitative", "scale": {"domain": [0, 4], "range": [726, 804], "nice": false, "zero": false}, "axis": null},
  "y2": {"datum": 4.6}}},
{"data": {"name": "ts"}, "transform": [{"filter": "datum.s == 'Sonnenschein'"}],
 "mark": {"type": "rule", "strokeWidth": 2},
 "encoding": {
  "x": {"field": "t", "type": "quantitative", "scale": {"domain": [0, 168], "nice": false, "zero": false},
        "axis": {"values": [0, 24, 48, 72, 96, 120, 144], "labelExpr": "['22.09. Mo','23.09. Di','24.09. Mi','25.09. Do','26.09. Fr','27.09. Sa','28.09. So'][round(datum.value/24)]", "title": null, "domain": false, "tickSize": 5, "tickColor": "#808080", "labelPadding": 3, "labelFontSize": 13, "labelFont": "Liberation Sans", "labelColor": "#000000", "grid": true, "gridColor": "#808080", "gridDash": [3, 3], "gridWidth": 1, "labelFlush": false, "labelOverlap": false}},
  "y": {"field": "v", "type": "quantitative", "scale": {"domain": [0, 10], "nice": false, "zero": false},
        "axis": {"orient": "right", "offset": 75, "values": [0,1,2,3,4,5,6,7,8,9,10], "format": "d", "title": "h", "titleAngle": 0, "titleX": 2, "titleY": -16, "titleAlign": "center", "titleBaseline": "middle", "titleColor": "#E8C000", "titleFontSize": 13, "titleFontWeight": "normal", "titleFont": "Liberation Sans", "labelColor": "#E8C000", "labelFontSize": 12, "labelFont": "Liberation Sans", "labelPadding": 2, "tickSize": 4, "tickColor": "#808080", "domainColor": "#808080", "domainWidth": 1.5, "grid": false, "labelOverlap": false, "labelFlush": false}},
  "y2": {"datum": 0},
  "color": {"field": "s", "type": "nominal", "scale": {"domain": ["Temp. A.","Temp.-5cm","Temp.-25cm","Temp.+5cm","Temp. 5","Temp. Wind","Feuchte A.","Feuchte5cm","Feuchte 5","Luftdruck","Regen","Wind","Sonnenschein","UV","Windböen"], "range": ["#FF0000","#FF8000","#804000","#8000FF","#FF0080","#800080","#0080C0","#8080FF","#0078C8","#00F000","#00FFFF","#000000","#E8C000","#F0C800","#000090"]},
    "legend": {"orient": "none", "legendX": 11, "legendY": -30, "direction": "horizontal", "columns": 11, "title": null, "symbolType": "square", "symbolSize": 110, "symbolStrokeWidth": 1, "labelFont": "Liberation Sans", "labelFontSize": 12.05, "labelLimit": 90, "labelOffset": 3, "columnPadding": 0, "rowPadding": -1, "gridAlign": "all", "padding": 0,
      "encode": {"symbols": {"update": {"fill": {"scale": "color", "field": "value"}, "fillOpacity": {"value": 1}, "stroke": {"value": "#000000"}, "strokeWidth": {"value": 1}, "opacity": {"value": 1}}},
                 "labels": {"update": {"fill": {"signal": "indexof(['Wind','Windböen'], datum.label) >= 0 ? '#000000' : indexof(['Sonnenschein','UV'], datum.label) >= 0 ? '#E8C000' : indexof(['Feuchte A.','Feuchte5cm','Feuchte 5'], datum.label) >= 0 ? '#0080C0' : datum.label == 'Luftdruck' ? '#00FF00' : datum.label == 'Regen' ? '#00FFFF' : '#FF0000'"}}}}}}
 }},
{"data": {"name": "ts"}, "transform": [{"filter": "datum.s == 'UV'"}],
 "mark": {"type": "line", "strokeWidth": 1.5},
 "encoding": {
  "x": {"field": "t", "type": "quantitative", "scale": {"domain": [0, 168], "nice": false, "zero": false}, "axis": null},
  "y": {"field": "v", "type": "quantitative", "scale": {"domain": [0, 10], "nice": false, "zero": false},
        "axis": {"orient": "left", "offset": 0, "values": [0,1,2,3,4,5,6,7,8,9,10], "format": ".1f", "title": "UV-I", "titleAngle": 0, "titleX": -23, "titleY": -16, "titleAlign": "center", "titleBaseline": "middle", "titleColor": "#E8C000", "titleFontSize": 13, "titleFontWeight": "normal", "titleFont": "Liberation Sans", "labelColor": "#E8C000", "labelFontSize": 12, "labelFont": "Liberation Sans", "labelPadding": 3, "tickSize": 3, "tickColor": "#808080", "domain": false, "grid": false, "labelOverlap": false, "labelFlush": false}},
  "color": {"field": "s", "type": "nominal", "scale": {"domain": ["Temp. A.","Temp.-5cm","Temp.-25cm","Temp.+5cm","Temp. 5","Temp. Wind","Feuchte A.","Feuchte5cm","Feuchte 5","Luftdruck","Regen","Wind","Sonnenschein","UV","Windböen"], "range": ["#FF0000","#FF8000","#804000","#8000FF","#FF0080","#800080","#0080C0","#8080FF","#0078C8","#00F000","#00FFFF","#000000","#E8C000","#F0C800","#000090"]}}
 }},
{"data": {"name": "ts"}, "transform": [{"filter": "indexof(['Feuchte A.','Feuchte 5','Feuchte5cm'], datum.s) >= 0"}],
 "mark": {"type": "line", "strokeWidth": 1.2},
 "encoding": {
  "x": {"field": "t", "type": "quantitative", "scale": {"domain": [0, 168], "nice": false, "zero": false}, "axis": null},
  "y": {"field": "v", "type": "quantitative", "scale": {"domain": [0, 100], "nice": false, "zero": false},
        "axis": {"orient": "right", "offset": 0, "values": [0,10,20,30,40,50,60,70,80,90,100], "format": "d", "title": "%", "titleAngle": 0, "titleX": 6, "titleY": -16, "titleAlign": "center", "titleBaseline": "middle", "titleColor": "#0080C0", "titleFontSize": 13, "titleFontWeight": "normal", "titleFont": "Liberation Sans", "labelColor": "#0080C0", "labelFontSize": 12, "labelFont": "Liberation Sans", "labelPadding": 2, "tickSize": 4, "tickColor": "#808080", "domain": false, "grid": false, "labelOverlap": false, "labelFlush": false}},
  "color": {"field": "s", "type": "nominal", "scale": {"domain": ["Temp. A.","Temp.-5cm","Temp.-25cm","Temp.+5cm","Temp. 5","Temp. Wind","Feuchte A.","Feuchte5cm","Feuchte 5","Luftdruck","Regen","Wind","Sonnenschein","UV","Windböen"], "range": ["#FF0000","#FF8000","#804000","#8000FF","#FF0080","#800080","#0080C0","#8080FF","#0078C8","#00F000","#00FFFF","#000000","#E8C000","#F0C800","#000090"]}}
 }},
{"data": {"name": "ts"}, "transform": [{"filter": "datum.s == 'Luftdruck'"}],
 "mark": {"type": "line", "strokeWidth": 3},
 "encoding": {
  "x": {"field": "t", "type": "quantitative", "scale": {"domain": [0, 168], "nice": false, "zero": false}, "axis": null},
  "y": {"field": "v", "type": "quantitative", "scale": {"domain": [982, 1039.04], "nice": false, "zero": false},
        "axis": {"orient": "left", "offset": 74, "values": [982,987,992,997,1002,1007,1012,1017,1022,1027,1032,1037], "format": "d", "title": "hPa", "titleAngle": 0, "titleX": -22, "titleY": -16, "titleAlign": "center", "titleBaseline": "middle", "titleColor": "#00FF00", "titleFontSize": 13, "titleFontWeight": "normal", "titleFont": "Liberation Sans", "labelColor": "#00FF00", "labelFontSize": 12, "labelFont": "Liberation Sans", "labelPadding": 3, "tickSize": 4, "tickColor": "#808080", "domainColor": "#808080", "domainWidth": 1.5, "grid": false, "labelOverlap": false, "labelFlush": false}},
  "color": {"field": "s", "type": "nominal", "scale": {"domain": ["Temp. A.","Temp.-5cm","Temp.-25cm","Temp.+5cm","Temp. 5","Temp. Wind","Feuchte A.","Feuchte5cm","Feuchte 5","Luftdruck","Regen","Wind","Sonnenschein","UV","Windböen"], "range": ["#FF0000","#FF8000","#804000","#8000FF","#FF0080","#800080","#0080C0","#8080FF","#0078C8","#00F000","#00FFFF","#000000","#E8C000","#F0C800","#000090"]}}
 }},
{"data": {"name": "ts"}, "transform": [{"filter": "indexof(['Temp.-25cm','Temp.-5cm'], datum.s) >= 0"}],
 "mark": {"type": "line", "strokeWidth": 3},
 "encoding": {
  "x": {"field": "t", "type": "quantitative", "scale": {"domain": [0, 168], "nice": false, "zero": false}, "axis": null},
  "y": {"field": "v", "type": "quantitative", "scale": {"domain": [-20, 40], "nice": false, "zero": false}, "axis": null},
  "color": {"field": "s", "type": "nominal", "scale": {"domain": ["Temp. A.","Temp.-5cm","Temp.-25cm","Temp.+5cm","Temp. 5","Temp. Wind","Feuchte A.","Feuchte5cm","Feuchte 5","Luftdruck","Regen","Wind","Sonnenschein","UV","Windböen"], "range": ["#FF0000","#FF8000","#804000","#8000FF","#FF0080","#800080","#0080C0","#8080FF","#0078C8","#00F000","#00FFFF","#000000","#E8C000","#F0C800","#000090"]}}
 }},
{"data": {"name": "ts"}, "transform": [{"filter": "datum.s == 'Temp. Wind'"}],
 "mark": {"type": "line", "strokeWidth": 1, "strokeDash": [2, 2]},
 "encoding": {
  "x": {"field": "t", "type": "quantitative", "scale": {"domain": [0, 168], "nice": false, "zero": false}, "axis": null},
  "y": {"field": "v", "type": "quantitative", "scale": {"domain": [-20, 40], "nice": false, "zero": false}, "axis": null},
  "color": {"field": "s", "type": "nominal", "scale": {"domain": ["Temp. A.","Temp.-5cm","Temp.-25cm","Temp.+5cm","Temp. 5","Temp. Wind","Feuchte A.","Feuchte5cm","Feuchte 5","Luftdruck","Regen","Wind","Sonnenschein","UV","Windböen"], "range": ["#FF0000","#FF8000","#804000","#8000FF","#FF0080","#800080","#0080C0","#8080FF","#0078C8","#00F000","#00FFFF","#000000","#E8C000","#F0C800","#000090"]}}
 }},
{"data": {"name": "ts"}, "transform": [{"filter": "indexof(['Temp.+5cm','Temp. A.'], datum.s) >= 0"}],
 "mark": {"type": "line", "strokeWidth": 3},
 "encoding": {
  "x": {"field": "t", "type": "quantitative", "scale": {"domain": [0, 168], "nice": false, "zero": false}, "axis": null},
  "y": {"field": "v", "type": "quantitative", "scale": {"domain": [-20, 40], "nice": false, "zero": false},
        "axis": {"orient": "left", "offset": 110, "values": [40,38,36,34,32,30,28,26,24,22,20,18,16,14,12,10,8,6,4,2,0,-2,-4,-6,-8,-10,-12,-14,-16,-18,-20], "format": ".1f", "title": "°C", "titleAngle": 0, "titleX": -19, "titleY": -16, "titleAlign": "center", "titleBaseline": "middle", "titleColor": "#FF0000", "titleFontSize": 13, "titleFontWeight": "normal", "titleFont": "Liberation Sans", "labelColor": "#FF0000", "labelFontSize": 12, "labelFont": "Liberation Sans", "labelPadding": 1, "tickSize": 6, "tickColor": "#808080", "domainColor": "#808080", "domainWidth": 1.5, "grid": true, "gridColor": "#808080", "gridDash": [3, 3], "gridWidth": 1, "labelOverlap": false, "labelFlush": false}},
  "color": {"field": "s", "type": "nominal", "scale": {"domain": ["Temp. A.","Temp.-5cm","Temp.-25cm","Temp.+5cm","Temp. 5","Temp. Wind","Feuchte A.","Feuchte5cm","Feuchte 5","Luftdruck","Regen","Wind","Sonnenschein","UV","Windböen"], "range": ["#FF0000","#FF8000","#804000","#8000FF","#FF0080","#800080","#0080C0","#8080FF","#0078C8","#00F000","#00FFFF","#000000","#E8C000","#F0C800","#000090"]}}
 }},
{"mark": {"type": "rule", "color": "#808080", "strokeWidth": 2.5},
 "encoding": {"y": {"datum": 0, "type": "quantitative", "scale": {"domain": [-20, 40], "nice": false, "zero": false}, "axis": null}}},
{"data": {"name": "ts"}, "transform": [{"filter": "datum.s == 'Windböen'"}],
 "mark": {"type": "line", "strokeWidth": 1},
 "encoding": {
  "x": {"field": "t", "type": "quantitative", "scale": {"domain": [0, 168], "nice": false, "zero": false}, "axis": null},
  "y": {"field": "v", "type": "quantitative", "scale": {"domain": [0, 50], "nice": false, "zero": false}, "axis": null},
  "color": {"field": "s", "type": "nominal", "scale": {"domain": ["Temp. A.","Temp.-5cm","Temp.-25cm","Temp.+5cm","Temp. 5","Temp. Wind","Feuchte A.","Feuchte5cm","Feuchte 5","Luftdruck","Regen","Wind","Sonnenschein","UV","Windböen"], "range": ["#FF0000","#FF8000","#804000","#8000FF","#FF0080","#800080","#0080C0","#8080FF","#0078C8","#00F000","#00FFFF","#000000","#E8C000","#F0C800","#000090"]}}
 }},
{"data": {"name": "ts"}, "transform": [{"filter": "datum.s == 'Wind'"}],
 "mark": {"type": "line", "strokeWidth": 4},
 "encoding": {
  "x": {"field": "t", "type": "quantitative", "scale": {"domain": [0, 168], "nice": false, "zero": false}, "axis": null},
  "y": {"field": "v", "type": "quantitative", "scale": {"domain": [0, 50], "nice": false, "zero": false},
        "axis": {"orient": "left", "offset": 36, "values": [0,5,10,15,20,25,30,35,40,45,50], "format": ".1f", "title": "km/h", "titleAngle": 0, "titleX": -26, "titleY": -16, "titleAlign": "center", "titleBaseline": "middle", "titleColor": "#000000", "titleFontSize": 13, "titleFontWeight": "normal", "titleFont": "Liberation Sans", "labelColor": "#000000", "labelFontSize": 12, "labelFont": "Liberation Sans", "labelPadding": 3, "tickSize": 5, "tickColor": "#808080", "domainColor": "#808080", "domainWidth": 1.5, "grid": false, "labelOverlap": false, "labelFlush": false}},
  "color": {"field": "s", "type": "nominal", "scale": {"domain": ["Temp. A.","Temp.-5cm","Temp.-25cm","Temp.+5cm","Temp. 5","Temp. Wind","Feuchte A.","Feuchte5cm","Feuchte 5","Luftdruck","Regen","Wind","Sonnenschein","UV","Windböen"], "range": ["#FF0000","#FF8000","#804000","#8000FF","#FF0080","#800080","#0080C0","#8080FF","#0078C8","#00F000","#00FFFF","#000000","#E8C000","#F0C800","#000090"]}}
 }},
{"data": {"name": "ts"}, "transform": [{"filter": "datum.s == 'Regen'"}],
 "mark": {"type": "rule", "strokeWidth": 6},
 "encoding": {
  "x": {"field": "t", "type": "quantitative", "scale": {"domain": [0, 168], "nice": false, "zero": false}, "axis": null},
  "y": {"field": "v", "type": "quantitative", "scale": {"domain": [0, 5], "nice": false, "zero": false},
        "axis": {"orient": "right", "offset": 37, "values": [0,1,2,3,4,5], "format": ".1f", "title": "l/m²", "titleAngle": 0, "titleX": 12, "titleY": -16, "titleAlign": "center", "titleBaseline": "middle", "titleColor": "#00FFFF", "titleFontSize": 13, "titleFontWeight": "normal", "titleFont": "Liberation Sans", "labelColor": "#00FFFF", "labelFontSize": 12, "labelFont": "Liberation Sans", "labelPadding": 3, "tickSize": 4, "tickColor": "#808080", "domainColor": "#808080", "domainWidth": 1.5, "grid": false, "labelOverlap": false, "labelFlush": false}},
  "y2": {"datum": 0},
  "color": {"field": "s", "type": "nominal", "scale": {"domain": ["Temp. A.","Temp.-5cm","Temp.-25cm","Temp.+5cm","Temp. 5","Temp. Wind","Feuchte A.","Feuchte5cm","Feuchte 5","Luftdruck","Regen","Wind","Sonnenschein","UV","Windböen"], "range": ["#FF0000","#FF8000","#804000","#8000FF","#FF0080","#800080","#0080C0","#8080FF","#0078C8","#00F000","#00FFFF","#000000","#E8C000","#F0C800","#000090"]}}
 }},
{"mark": {"type": "rule", "color": "#00FFFF", "strokeWidth": 2, "strokeDash": [2, 2]},
 "encoding": {"y": {"datum": 0.01, "type": "quantitative", "scale": {"domain": [0, 5], "nice": false, "zero": false}, "axis": null}}},
{"data": {"name": "tbl"}, "transform": [{"filter": "datum.a == 'l' && datum.c >= 1"}, {"aggregate": [{"op": "count", "as": "n"}], "groupby": ["c"]}],
 "mark": {"type": "rule", "color": "#A0A0A0", "strokeWidth": 1.5},
 "encoding": {
  "x": {"field": "c", "type": "quantitative", "scale": {"domain": [0, 1, 8, 9], "range": [-151, -41, 973, 1249], "nice": false, "zero": false}, "axis": null},
  "y": {"datum": -0.97, "type": "quantitative", "scale": {"domain": [0, 4], "range": [726, 804], "nice": false, "zero": false}, "axis": null},
  "y2": {"datum": 4.6}}},
{"data": {"name": "tbl"}, "transform": [{"filter": "datum.a == 'l' && datum.b == 1"}],
 "mark": {"type": "text", "align": "left", "baseline": "middle", "font": "Liberation Sans", "fontSize": 13, "fontWeight": "bold", "color": "#000000"},
 "encoding": {
  "x": {"field": "c", "type": "quantitative", "scale": {"domain": [0, 1, 8], "range": [-141, -34, 980], "nice": false, "zero": false}, "axis": null},
  "y": {"field": "r", "type": "quantitative", "scale": {"domain": [0, 4], "range": [726, 804], "nice": false, "zero": false}, "axis": null},
  "text": {"field": "t"}}},
{"data": {"name": "tbl"}, "transform": [{"filter": "datum.a == 'l' && datum.b == 0"}],
 "mark": {"type": "text", "align": "left", "baseline": "middle", "font": "Liberation Sans", "fontSize": 11, "color": "#000000"},
 "encoding": {
  "x": {"field": "c", "type": "quantitative", "scale": {"domain": [0, 1, 8], "range": [-141, -34, 980], "nice": false, "zero": false}, "axis": null},
  "y": {"field": "r", "type": "quantitative", "scale": {"domain": [0, 4], "range": [726, 804], "nice": false, "zero": false}, "axis": null},
  "text": {"field": "t"}}},
{"data": {"name": "tbl"}, "transform": [{"filter": "datum.a == 'r' && datum.b == 1"}],
 "mark": {"type": "text", "align": "right", "baseline": "middle", "font": "Liberation Sans", "fontSize": 13, "fontWeight": "bold", "color": "#000000"},
 "encoding": {
  "x": {"field": "c", "type": "quantitative", "scale": {"domain": [1, 7], "range": [92, 964], "nice": false, "zero": false}, "axis": null},
  "y": {"field": "r", "type": "quantitative", "scale": {"domain": [0, 4], "range": [726, 804], "nice": false, "zero": false}, "axis": null},
  "text": {"field": "t"}}},
{"data": {"name": "tbl"}, "transform": [{"filter": "datum.a == 'r' && datum.b == 0"}],
 "mark": {"type": "text", "align": "right", "baseline": "middle", "font": "Liberation Sans", "fontSize": 11, "color": "#000000"},
 "encoding": {
  "x": {"field": "c", "type": "quantitative", "scale": {"domain": [1, 7], "range": [92, 964], "nice": false, "zero": false}, "axis": null},
  "y": {"field": "r", "type": "quantitative", "scale": {"domain": [0, 4], "range": [726, 804], "nice": false, "zero": false}, "axis": null},
  "text": {"field": "t"}}}
]
}
